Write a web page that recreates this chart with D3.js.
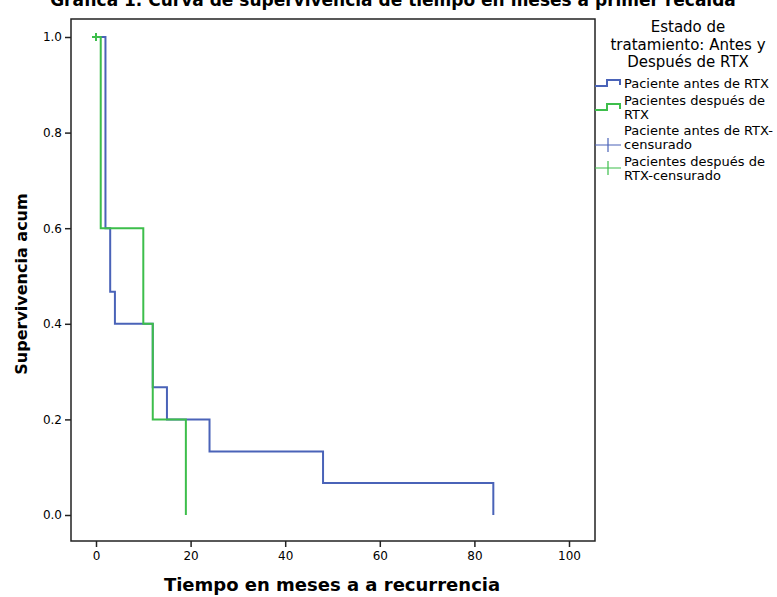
<!DOCTYPE html>
<html>
<head>
<meta charset="utf-8">
<script src="https://cdn.jsdelivr.net/npm/d3@7"></script>
<style>
  body { margin: 0; background: #fff; }
  svg text { font-family: "DejaVu Sans", sans-serif; fill: #000; }
</style>
</head>
<body>
<svg id="chart" width="777" height="597"></svg>
<script>
// Kaplan-Meier steps
const antesTimes = [0, 2, 3, 4, 12, 15, 24, 48, 84];
const antesSurv = [1.0, 0.6, 0.467, 0.4, 0.267, 0.2, 0.133, 0.067, 0.0];
const despuesTimes = [0, 1, 10, 12, 19];
const despuesSurv = [1.0, 0.6, 0.4, 0.2, 0.0];
const antesCensTimes = [0];
const antesCensSurv = [1.0];
const despuesCensTimes = [0];
const despuesCensSurv = [1.0];

const xTicks = [0, 20, 40, 60, 80, 100];
const yTicks = [0.0, 0.2, 0.4, 0.6, 0.8, 1.0];

const blue = "#4a63b8";
const green = "#3dbe4b";

const svg = d3.select("#chart");
const frameL = 71, frameR = 595, frameT = 19, frameB = 541;

const x = d3.scaleLinear().domain([0, 100]).range([96, 569]);
const y = d3.scaleLinear().domain([0, 1]).range([515, 37]);

// title (clipped at top in the original)
svg.append("text")
  .attr("x", 393).attr("y", 6)
  .attr("text-anchor", "middle")
  .style("font-size", "17px").style("font-weight", "bold")
  .text("Gráfica 1. Curva de supervivencia de tiempo en meses a primer recaída");

// frame
svg.append("rect")
  .attr("x", frameL).attr("y", frameT)
  .attr("width", frameR - frameL).attr("height", frameB - frameT)
  .attr("fill", "none").attr("stroke", "#222").attr("stroke-width", 1.5);

// axes
const xAxis = svg.append("g")
  .attr("transform", "translate(0," + frameB + ")")
  .call(d3.axisBottom(x).tickValues(xTicks).tickFormat(d3.format("d")).tickSize(6).tickPadding(4));
const yAxis = svg.append("g")
  .attr("transform", "translate(" + frameL + ",0)")
  .call(d3.axisLeft(y).tickValues(yTicks).tickFormat(d3.format(".1f")).tickSize(6).tickPadding(3));
[xAxis, yAxis].forEach(g => {
  g.select(".domain").remove();
  g.selectAll("line").attr("stroke", "#222").attr("stroke-width", 1.5);
  g.selectAll("text").style("font-size", "12px").style("font-family", "DejaVu Sans").attr("fill", "#222");
});

// axis titles
svg.append("text")
  .attr("x", 332).attr("y", 591)
  .attr("text-anchor", "middle")
  .style("font-size", "18px").style("font-weight", "bold")
  .text("Tiempo en meses a a recurrencia");
svg.append("text")
  .attr("transform", "translate(27,284) rotate(-90)")
  .attr("text-anchor", "middle")
  .style("font-size", "16px").style("font-weight", "bold")
  .text("Supervivencia acum");

// step curves
const step = d3.line().curve(d3.curveStepAfter);
function drawCurve(times, surv, color) {
  svg.append("path")
    .attr("d", step(times.map((t, i) => [x(t), y(surv[i])])))
    .attr("fill", "none").attr("stroke", color).attr("stroke-width", 2);
}
function drawCensor(times, surv, color) {
  times.forEach((t, i) => {
    const cx = x(t), cy = y(surv[i]);
    svg.append("path")
      .attr("d", `M${cx - 4},${cy}H${cx + 4}M${cx},${cy - 4}V${cy + 4}`)
      .attr("stroke", color).attr("stroke-width", 2);
  });
}
drawCurve(antesTimes, antesSurv, blue);
drawCensor(antesCensTimes, antesCensSurv, blue);
drawCurve(despuesTimes, despuesSurv, green);
drawCensor(despuesCensTimes, despuesCensSurv, green);

// legend
const lg = svg.append("g");
["Estado de", "tratamiento: Antes y", "Después de RTX"].forEach((s, i) => {
  lg.append("text")
    .attr("x", 688).attr("y", 32 + i * 17.5)
    .attr("text-anchor", "middle")
    .style("font-size", "15px")
    .text(s);
});
const items = [
  { lines: ["Paciente antes de RTX"], color: blue, type: "step", y: 88, my: 83 },
  { lines: ["Pacientes después de", "RTX"], color: green, type: "step", y: 105, my: 107 },
  { lines: ["Paciente antes de RTX-", "censurado"], color: blue, type: "cross", y: 135, my: 145 },
  { lines: ["Pacientes después de", "RTX-censurado"], color: green, type: "cross", y: 166, my: 168 }
];
items.forEach(it => {
  if (it.type === "step") {
    lg.append("path")
      .attr("d", `M595,${it.my + 3}H607V${it.my - 3}H620V${it.my + 2}`)
      .attr("fill", "none").attr("stroke", it.color).attr("stroke-width", 2);
  } else {
    lg.append("path")
      .attr("d", `M595,${it.my}H621M608,${it.my - 7}V${it.my + 7}`)
      .attr("stroke", it.color).attr("stroke-width", 1.2);
  }
  it.lines.forEach((s, j) => {
    lg.append("text")
      .attr("x", 624).attr("y", it.y + j * 13.5)
      .style("font-size", "13px")
      .text(s);
  });
});
</script>
</body>
</html>
